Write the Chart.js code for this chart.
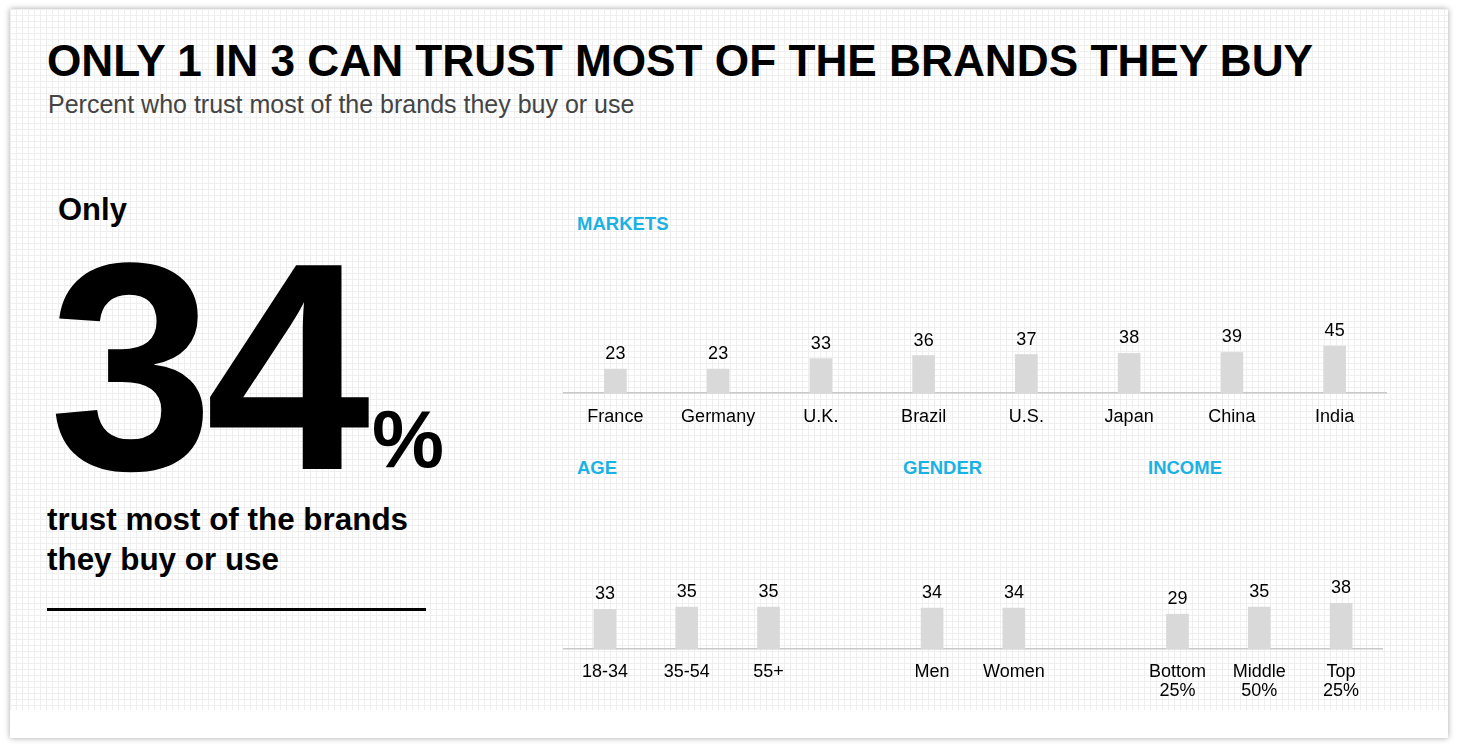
<!DOCTYPE html>
<html>
<head>
<meta charset="utf-8">
<script src="https://cdn.jsdelivr.net/npm/chart.js@4/dist/chart.umd.min.js"></script>
<style>
  html, body { margin:0; padding:0; background:#fff; }
  body { width:1457px; height:747px; position:relative; overflow:hidden; font-family:"Liberation Sans", Arial, Helvetica, sans-serif; }
  #card { position:absolute; left:10px; top:9px; width:1438px; height:729px; background:#fff; box-shadow:0 0 6px rgba(0,0,0,0.35); }
  #grid { position:absolute; left:0; top:0; width:1438px; height:701px;
    background-color:#fff;
    background-image: linear-gradient(to right, #efefef 1px, transparent 1px), linear-gradient(to bottom, #efefef 1px, transparent 1px);
    background-size:6px 6px; }
  .t { position:absolute; white-space:nowrap; line-height:1; color:#000; }
  .sec { position:absolute; white-space:nowrap; line-height:1; color:#1ab2e3; font-weight:bold; font-size:18.5px; }
  canvas { position:absolute; }
</style>
</head>
<body>
<div id="card"><div id="grid"></div></div>
<div class="t" style="left:47px; top:39px; font-size:44.2px; font-weight:bold;">ONLY 1 IN 3 CAN TRUST MOST OF THE BRANDS THEY BUY</div>
<div class="t" style="left:48px; top:92px; font-size:25px; color:#444;">Percent who trust most of the brands they buy or use</div>
<div class="t" style="left:58px; top:194px; font-size:31px; font-weight:bold;">Only</div>
<div class="t" style="left:49px; top:219px; font-size:296px; font-weight:bold; letter-spacing:-8px;">34</div>
<div class="t" style="left:372px; top:399px; font-size:81px; font-weight:bold;">%</div>
<div class="t" style="left:47px; top:504px; font-size:31.4px; font-weight:bold;">trust most of the brands</div>
<div class="t" style="left:47px; top:544px; font-size:31.4px; font-weight:bold;">they buy or use</div>
<div style="position:absolute; left:47px; top:608px; width:379px; height:3px; background:#000;"></div>
<div class="sec" style="left:577px; top:215px;">MARKETS</div>
<div class="sec" style="left:577px; top:459px;">AGE</div>
<div class="sec" style="left:903px; top:459px;">GENDER</div>
<div class="sec" style="left:1148px; top:459px;">INCOME</div>

<canvas id="c1" width="842" height="144" style="left:554px; top:289px;"></canvas>
<canvas id="c2" width="842" height="180" style="left:554px; top:529px;"></canvas>

<script>
const marketLabels = ['France','Germany','U.K.','Brazil','U.S.','Japan','China','India'];
const marketValues = [23,23,33,36,37,38,39,45];
const demoLabels = ['18-34','35-54','55+','','Men','Women','',['Bottom','25%'],['Middle','50%'],['Top','25%']];
const demoValues = [33,35,35,null,34,34,null,29,35,38];

const FONT = '"Liberation Sans", Arial, Helvetica, sans-serif';

const valueLabels = {
  id:'valueLabels',
  afterDatasetsDraw(chart){
    const ctx = chart.ctx;
    const ds = chart.data.datasets[0];
    const meta = chart.getDatasetMeta(0);
    ctx.save();
    ctx.font = '18px ' + FONT;
    ctx.fillStyle = '#000';
    ctx.textAlign = 'center';
    ctx.textBaseline = 'alphabetic';
    meta.data.forEach((el, i) => {
      const v = ds.data[i];
      if (v === null || v === undefined) return;
      ctx.fillText(String(v), el.x, el.y - 10);
    });
    ctx.restore();
  }
};

function makeChart(id, labels, values, axisH, padR, tickPad){
  return new Chart(document.getElementById(id), {
    type:'bar',
    data:{ labels, datasets:[{ data:values, backgroundColor:'#d9d9d9', borderWidth:0, barThickness:22 }] },
    options:{
      responsive:false, animation:false, devicePixelRatio:1,
      layout:{ padding:{ left:10, right:padR, top:0, bottom:0 } },
      plugins:{ legend:{display:false}, tooltip:{enabled:false} },
      scales:{
        x:{
          grid:{ display:false, drawTicks:false, tickLength:0 },
          border:{ display:true, color:'#c8c8c8', width:1.5 },
          ticks:{ color:'#000', font:{ family:FONT, size:18, lineHeight:1.05 }, padding:tickPad, maxRotation:0, autoSkip:false },
          afterFit(scale){ scale.height = axisH; }
        },
        y:{ display:false, min:0, max:100 }
      }
    },
    plugins:[valueLabels]
  });
}
makeChart('c1', marketLabels, marketValues, 40, 10, 15);
makeChart('c2', demoLabels, demoValues, 60, 14, 14);
</script>
</body>
</html>
